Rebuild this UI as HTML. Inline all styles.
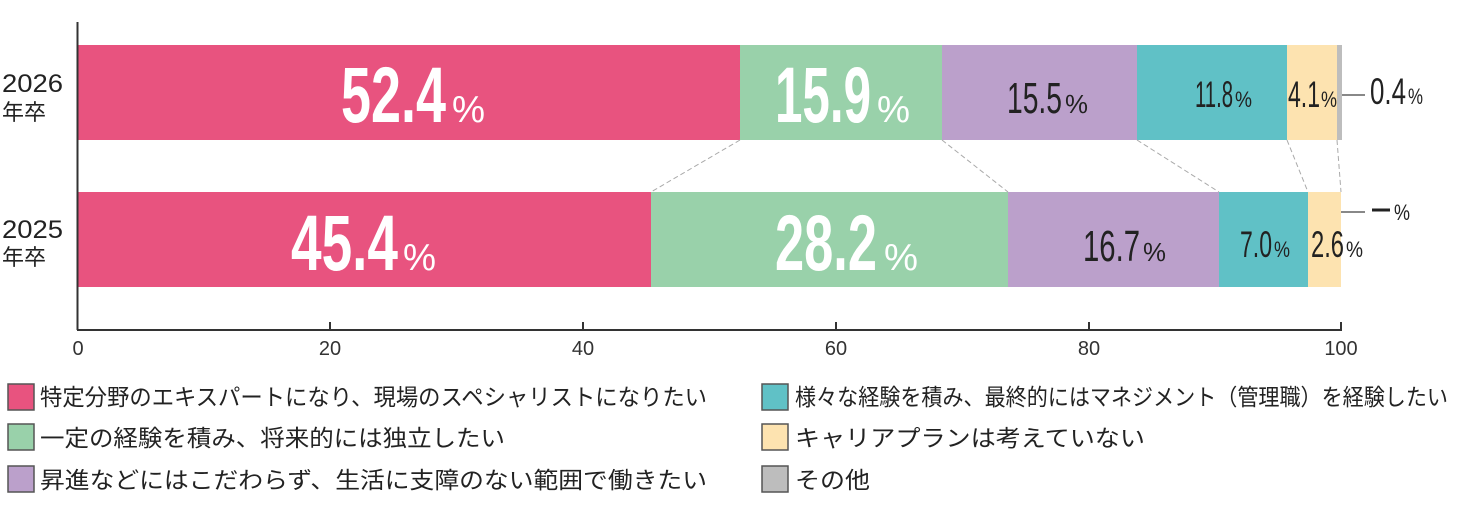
<!DOCTYPE html>
<html><head><meta charset="utf-8"><style>
html,body{margin:0;padding:0;background:#fff;}
svg{display:block;}
text{font-family:"Liberation Sans Narrow","Liberation Sans","Noto Sans CJK JP",sans-serif;}
.j{font-family:"Liberation Sans","Noto Sans CJK JP",sans-serif;fill:#222;}
</style></head><body>
<svg width="1462" height="532" viewBox="0 0 1462 532" xmlns="http://www.w3.org/2000/svg">
<!-- bars 2026 -->
<rect x="77" y="45" width="663" height="95" fill="#e8537f"/>
<rect x="740" y="45" width="202" height="95" fill="#99d1aa"/>
<rect x="942" y="45" width="195" height="95" fill="#bba0cb"/>
<rect x="1137" y="45" width="150" height="95" fill="#60c1c6"/>
<rect x="1287" y="45" width="50" height="95" fill="#fde3b0"/>
<rect x="1337" y="45" width="5" height="95" fill="#bdbdbd"/>
<!-- bars 2025 -->
<rect x="77" y="192" width="574" height="95" fill="#e8537f"/>
<rect x="651" y="192" width="357" height="95" fill="#99d1aa"/>
<rect x="1008" y="192" width="211" height="95" fill="#bba0cb"/>
<rect x="1219" y="192" width="89" height="95" fill="#60c1c6"/>
<rect x="1308" y="192" width="33" height="95" fill="#fde3b0"/>
<!-- connectors -->
<g stroke="#aaa" stroke-width="1" stroke-dasharray="5,3" fill="none">
<line x1="740" y1="140" x2="651" y2="192"/>
<line x1="942" y1="140" x2="1008" y2="192"/>
<line x1="1137" y1="140" x2="1219" y2="192"/>
<line x1="1287" y1="140" x2="1308" y2="192"/>
<line x1="1337" y1="140" x2="1341" y2="192"/>
</g>
<!-- axes -->
<line x1="77.5" y1="22" x2="77.5" y2="330" stroke="#333" stroke-width="2"/>
<line x1="77" y1="330" x2="1342" y2="330" stroke="#333" stroke-width="2"/>
<g stroke="#333" stroke-width="2">
<line x1="330" y1="322" x2="330" y2="330"/><line x1="583" y1="322" x2="583" y2="330"/>
<line x1="836" y1="322" x2="836" y2="330"/><line x1="1089" y1="322" x2="1089" y2="330"/>
<line x1="1341" y1="322" x2="1341" y2="330"/>
</g>
<g font-size="20" fill="#333" text-anchor="middle">
<text x="78" y="355">0</text><text x="330" y="355">20</text><text x="583" y="355">40</text>
<text x="836" y="355">60</text><text x="1089" y="355">80</text><text x="1341" y="355">100</text>
</g>
<!-- y labels -->
<text class="j" x="2" y="92" font-size="25" textLength="61" lengthAdjust="spacingAndGlyphs">2026</text>
<text class="j" x="2" y="120" font-size="22">年卒</text>
<text class="j" x="2" y="238" font-size="25" textLength="61" lengthAdjust="spacingAndGlyphs">2025</text>
<text class="j" x="2" y="265" font-size="22">年卒</text>
<!-- values -->
<g fill="#fff" font-weight="bold" font-size="79">
<text x="341" y="122" textLength="105" lengthAdjust="spacingAndGlyphs">52.4</text>
<text x="775" y="122" textLength="96" lengthAdjust="spacingAndGlyphs">15.9</text>
<text x="291" y="270" textLength="107" lengthAdjust="spacingAndGlyphs">45.4</text>
<text x="775" y="270" textLength="102" lengthAdjust="spacingAndGlyphs">28.2</text>
</g>
<g fill="#fff" font-size="38">
<text x="452" y="122" textLength="33" lengthAdjust="spacingAndGlyphs">%</text>
<text x="877" y="122" textLength="33" lengthAdjust="spacingAndGlyphs">%</text>
<text x="403" y="270" textLength="33" lengthAdjust="spacingAndGlyphs">%</text>
<text x="884" y="270" textLength="34" lengthAdjust="spacingAndGlyphs">%</text>
</g>
<g fill="#222">
<text x="1007" y="113" font-size="44" textLength="55" lengthAdjust="spacingAndGlyphs">15.5</text>
<text x="1065" y="113" font-size="26" textLength="23" lengthAdjust="spacingAndGlyphs">%</text>
<text x="1083" y="261" font-size="44" textLength="57" lengthAdjust="spacingAndGlyphs">16.7</text>
<text x="1143" y="261" font-size="26" textLength="23" lengthAdjust="spacingAndGlyphs">%</text>
<text x="1195" y="107" font-size="37" textLength="38" lengthAdjust="spacingAndGlyphs">11.8</text>
<text x="1235" y="107" font-size="22" textLength="17" lengthAdjust="spacingAndGlyphs">%</text>
<text x="1288" y="107" font-size="37" textLength="32" lengthAdjust="spacingAndGlyphs">4.1</text>
<text x="1321" y="107" font-size="22" textLength="16" lengthAdjust="spacingAndGlyphs">%</text>
<text x="1240" y="257" font-size="37" textLength="32" lengthAdjust="spacingAndGlyphs">7.0</text>
<text x="1274" y="257" font-size="22" textLength="16" lengthAdjust="spacingAndGlyphs">%</text>
<text x="1311" y="257" font-size="37" textLength="33" lengthAdjust="spacingAndGlyphs">2.6</text>
<text x="1346" y="257" font-size="22" textLength="17" lengthAdjust="spacingAndGlyphs">%</text>
<text x="1370" y="104" font-size="37" textLength="36" lengthAdjust="spacingAndGlyphs">0.4</text>
<text x="1408" y="104" font-size="22" textLength="15" lengthAdjust="spacingAndGlyphs">%</text>
<text x="1394" y="220" font-size="22" textLength="16" lengthAdjust="spacingAndGlyphs">%</text>
</g>
<line x1="1342" y1="95" x2="1365" y2="95" stroke="#888" stroke-width="2"/>
<line x1="1341" y1="212" x2="1365" y2="212" stroke="#888" stroke-width="2"/>
<line x1="1372" y1="210" x2="1390" y2="210" stroke="#222" stroke-width="3"/>
<!-- legend -->
<g stroke="#555" stroke-width="1.5">
<rect x="8" y="384" width="26" height="26" fill="#e8537f"/>
<rect x="8" y="424" width="26" height="26" fill="#99d1aa"/>
<rect x="8" y="466" width="26" height="26" fill="#bba0cb"/>
<rect x="762" y="384" width="26" height="26" fill="#60c1c6"/>
<rect x="762" y="424" width="26" height="26" fill="#fde3b0"/>
<rect x="762" y="466" width="26" height="26" fill="#bdbdbd"/>
</g>
<g class="j" font-size="23">
<text x="40" y="405" textLength="667" lengthAdjust="spacingAndGlyphs">特定分野のエキスパートになり、現場のスペシャリストになりたい</text>
<text x="40" y="446" textLength="465" lengthAdjust="spacingAndGlyphs">一定の経験を積み、将来的には独立したい</text>
<text x="40" y="488" textLength="667" lengthAdjust="spacingAndGlyphs">昇進などにはこだわらず、生活に支障のない範囲で働きたい</text>
<text x="795" y="405" textLength="653" lengthAdjust="spacingAndGlyphs">様々な経験を積み、最終的にはマネジメント（管理職）を経験したい</text>
<text x="795" y="446" textLength="350" lengthAdjust="spacingAndGlyphs">キャリアプランは考えていない</text>
<text x="795" y="488" textLength="75" lengthAdjust="spacingAndGlyphs">その他</text>
</g>
</svg>
</body></html>
